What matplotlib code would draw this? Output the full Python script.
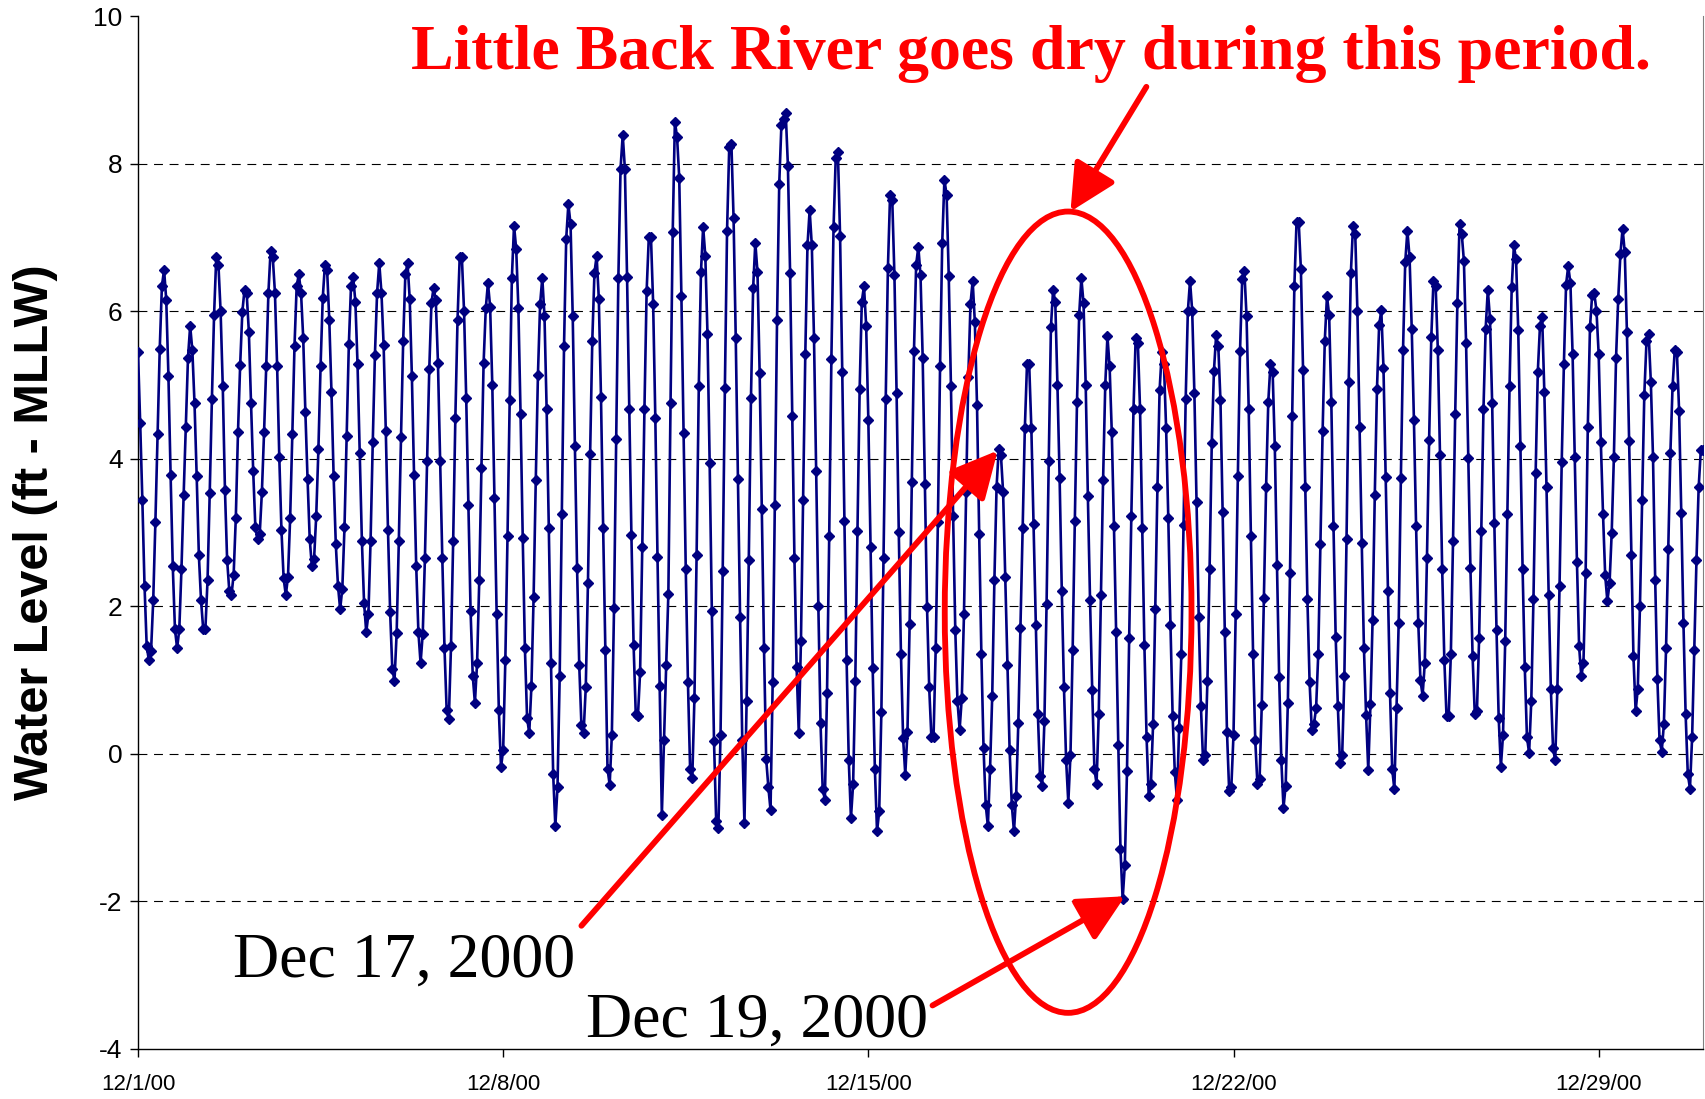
import numpy as np
import pandas as pd
import matplotlib
matplotlib.use("Agg")
import matplotlib.pyplot as plt
import matplotlib.dates as mdates
from matplotlib.patches import Ellipse
from matplotlib.ticker import FuncFormatter

plt.rcParams["axes.unicode_minus"] = False

# Hourly water level (ft - MLLW), starting 12/1/2000 00:00
seg_a = [5.45, 4.49, 3.44, 2.28, 1.46, 1.27, 1.39, 2.08, 3.14, 4.33,
         5.49, 6.34, 6.56, 6.15, 5.12, 3.78, 2.54, 1.69, 1.43, 1.69,
         2.51, 3.51, 4.43, 5.37, 5.80, 5.47, 4.75, 3.76, 2.69, 2.08,
         1.69, 1.69, 2.36, 3.54, 4.81, 5.95, 6.73, 6.63, 6.00, 4.98,
         3.58, 2.63, 2.21, 2.15, 2.43, 3.20, 4.36, 5.27, 5.99, 6.29,
         6.24, 5.72, 4.75, 3.83, 3.07, 2.91, 2.98, 3.55, 4.36, 5.26,
         6.25]
seg_b = [6.82, 6.73, 6.25, 5.26, 4.02, 3.03, 2.38, 2.15, 2.40, 3.20,
         4.33, 5.53, 6.34, 6.50, 6.25, 5.64, 4.63, 3.73, 2.91, 2.54,
         2.64, 3.23, 4.13, 5.26, 6.18, 6.63, 6.56, 5.88, 4.91, 3.76,
         2.84, 2.28, 1.96, 2.24, 3.07, 4.31, 5.55, 6.34, 6.46, 6.13,
         5.28, 4.08, 2.89, 2.05, 1.65, 1.89, 2.89, 4.22, 5.41, 6.25,
         6.65, 6.25, 5.54, 4.38, 3.04, 1.92, 1.15, 0.99, 1.64, 2.89]
seg_c = [4.29, 5.60, 6.50, 6.65, 6.17, 5.12, 3.78, 2.54, 1.65, 1.23,
         1.63, 2.65, 3.97, 5.21, 6.11, 6.32, 6.15, 5.30, 3.97, 2.65,
         1.44, 0.59, 0.47, 1.46, 2.89, 4.55, 5.88, 6.73, 6.73, 6.00,
         4.82, 3.37, 1.94, 1.06, 0.69, 1.23, 2.35, 3.87, 5.30, 6.04,
         6.38, 6.06, 5.00, 3.47, 1.90, 0.60, -0.18, 0.05, 1.27, 2.95,
         4.79, 6.45, 7.16, 6.84, 6.04, 4.60, 2.93, 1.43, 0.49, 0.28]
seg_d = [0.92, 2.12, 3.71, 5.14, 6.10, 6.45, 5.94, 4.67, 3.06, 1.23,
         -0.27, -0.98, -0.45, 1.05, 3.25, 5.53, 6.98, 7.45, 7.18, 5.93,
         4.17, 2.52, 1.20, 0.39, 0.28, 0.90, 2.31, 4.06, 5.60, 6.52,
         6.75, 6.17, 4.84, 3.06, 1.41, -0.20, -0.42, 0.26, 1.97, 4.27,
         6.45, 7.93, 8.39, 7.93, 6.46, 4.68, 2.96, 1.48, 0.54, 0.51,
         1.11, 2.81, 4.68, 6.27, 7.00, 7.00, 6.10, 4.55, 2.67, 0.92,
         -0.83]
seg_e = [0.19, 1.20, 2.17, 4.75, 7.07, 8.57, 8.36, 7.81, 6.20, 4.35,
         2.51, 0.98, -0.20, -0.33, 0.76, 2.70, 4.98, 6.53, 7.14, 6.75,
         5.69, 3.94, 1.94, 0.17, -0.91, -1.01, 0.26, 2.48, 4.96, 7.09,
         8.22, 8.27, 7.26, 5.64, 3.72, 1.85, 0.19, -0.94, 0.72, 2.63,
         4.82, 6.31, 6.93, 6.53, 5.16, 3.32, 1.43, -0.07, -0.45, -0.76,
         0.98, 3.37, 5.88, 7.72, 8.52, 8.60]
seg_f = [8.68, 7.97, 6.52, 4.58, 2.65, 1.18, 0.28, 1.53, 3.44, 5.42,
         6.89, 7.37, 6.89, 5.64, 3.83, 2.01, 0.42, -0.48, -0.62, 0.83,
         2.95, 5.35, 7.14, 8.08, 8.16, 7.02, 5.18, 3.16, 1.27, -0.09,
         -0.87, -0.41, 0.99, 3.02, 4.94, 6.13, 6.34, 5.80, 4.53, 2.81,
         1.16, -0.20, -1.05, -0.78, 0.57, 2.65, 4.81, 6.58, 7.57, 7.51,
         6.49, 4.89, 3.01, 1.36, 0.21, -0.28, 0.30, 1.76, 3.68, 5.46,
         6.63, 6.87, 6.49]
seg_g = [5.37, 3.66, 1.99, 0.90, 0.23, 0.23, 1.43, 3.14, 5.25, 6.93,
         7.78, 7.58, 6.47, 4.99, 3.23, 1.68, 0.72, 0.33, 0.76, 1.89,
         3.55, 5.11, 6.10, 6.41, 5.85, 4.73, 2.98, 1.36, 0.08, -0.69,
         -0.98, -0.20, 0.79, 2.36, 3.62, 4.13, 4.05, 3.55, 2.40, 1.20,
         0.05, -0.69, -1.05, -0.57, 0.42, 1.71, 3.06, 4.41, 5.28, 5.28,
         4.41, 3.11, 1.75, 0.54, -0.30, -0.43, 0.44, 2.03, 3.97, 5.78,
         6.29]
seg_h = [6.13, 5.00, 3.74, 2.21, 0.90, -0.09, -0.66, -0.01, 1.41, 3.16,
         4.77, 5.95, 6.45, 6.11, 5.00, 3.49, 2.08, 0.86, -0.20, -0.41,
         0.54, 2.15, 3.71, 5.00, 5.66, 5.25, 4.36, 3.09, 1.65, 0.12,
         -1.29, -1.97, -1.51, -0.23, 1.57, 3.23, 4.68, 5.64, 5.57, 4.68,
         3.06, 1.48, 0.23, -0.57, -0.41, 0.40, 1.96, 3.61, 4.93, 5.44,
         5.28, 4.41, 3.20, 1.75, 0.51]
seg_i = [-0.25, -0.62, 0.35, 1.36, 3.10, 4.81, 6.00]
seg_j = [6.41, 6.00, 4.89, 3.41, 1.85, 0.65, -0.09, -0.02, 0.99, 2.51,
         4.21, 5.19, 5.67, 5.53, 4.79, 3.28, 1.65, 0.30, -0.50, -0.45,
         0.26, 1.89, 3.76, 5.46, 6.43, 6.54, 5.93, 4.67, 2.95, 1.36,
         0.19, -0.41, -0.34, 0.66, 2.11, 3.62, 4.77, 5.28, 5.18, 4.17,
         2.56, 1.04, -0.09, -0.73, -0.43, 0.69, 2.45, 4.58, 6.34, 7.21,
         7.21, 6.57, 5.20, 3.61, 2.10, 0.98, 0.33, 0.40]
seg_k = [0.62, 1.36, 2.84, 4.38, 5.60, 6.20, 5.95, 4.77, 3.09, 1.59,
         0.65, -0.13, -0.02, 1.05, 2.91, 5.04, 6.52, 7.16, 7.05, 6.00,
         4.43, 2.86, 1.44, 0.52, -0.22, 0.67, 1.82, 3.51, 4.94, 5.81,
         6.01, 5.23, 3.75, 2.21, 0.83, -0.20, -0.48, 0.62, 1.78, 3.74,
         5.48, 6.66, 7.09, 6.73, 5.76, 4.53, 3.09, 1.78, 1.00, 0.79,
         1.23, 2.65, 4.26, 5.65, 6.41, 6.34, 5.48, 4.05, 2.51, 1.27]
seg_l = [0.51, 0.51, 1.36, 2.89, 4.61, 6.11, 7.18, 7.05, 6.68, 5.57,
         4.01, 2.52, 1.32, 0.54, 0.58, 1.57, 3.02, 4.67, 5.76, 6.29,
         5.90, 4.75, 3.13, 1.68, 0.49, -0.18, 0.26, 1.53, 3.25, 4.99,
         6.33, 6.89, 6.70, 5.74, 4.17, 2.51, 1.18, 0.23, 0.01, 0.72,
         2.10, 3.80, 5.18, 5.80, 5.92, 4.91, 3.62, 2.15, 0.88, 0.08,
         -0.09, 0.88, 2.28, 3.96, 5.28, 6.36, 6.61, 6.38, 5.42, 4.02,
         2.60, 1.46]
seg_m = [1.05, 1.23, 2.45, 4.43, 5.78, 6.22, 6.24, 6.00, 5.42, 4.22,
         3.25, 2.42, 2.07, 2.31, 3.00, 4.02, 5.37, 6.17, 6.77, 7.12,
         6.80, 5.72, 4.24, 2.70, 1.32, 0.58, 0.88, 2.01, 3.44, 4.87,
         5.59, 5.69, 5.04, 4.02, 2.36, 1.02, 0.19, 0.03, 0.40, 1.43,
         2.77, 4.08, 4.98, 5.47, 5.44, 4.65, 3.27, 1.78, 0.54, -0.27,
         -0.47, 0.23, 1.41, 2.63, 3.61, 4.12, 4.12]

segments = [seg_a, seg_b, seg_c, seg_d, seg_e, seg_f, seg_g,
            seg_h, seg_i, seg_j, seg_k, seg_l, seg_m]
level = np.concatenate([np.asarray(s, float) for s in segments])
times = pd.date_range("2000-12-01 00:00", periods=len(level), freq="h")

x_tick_dates = ["2000-12-01", "2000-12-08", "2000-12-15", "2000-12-22", "2000-12-29"]
y_ticks = [-4, -2, 0, 2, 4, 6, 8, 10]

title_text = "Little Back River goes dry during this period."
label_dec17 = "Dec 17, 2000"
label_dec19 = "Dec 19, 2000"

W, H = 1705, 1099
fig = plt.figure(figsize=(W / 100, H / 100), dpi=100)
ax = fig.add_axes([138 / W, 1 - 1049 / H, (1703 - 138) / W, (1049 - 16) / H])

ax.plot(times, level, color="#000080", lw=1.9, marker="D", ms=4.8,
        mec="#000080", mfc="#000080", zorder=3)

t0 = pd.Timestamp("2000-12-01")
def day(d):
    return mdates.date2num(t0 + pd.Timedelta(days=d))

ax.set_xlim(day(0), day(30))
ax.set_ylim(-4, 10)
ax.set_yticks(y_ticks)
ax.set_xticks([mdates.date2num(pd.Timestamp(d)) for d in x_tick_dates])
ax.xaxis.set_major_formatter(FuncFormatter(
    lambda v, p: "{}/{}/{:02d}".format(mdates.num2date(v).month,
                                        mdates.num2date(v).day,
                                        mdates.num2date(v).year % 100)))

ax.spines["top"].set_visible(False)
ax.spines["right"].set_color("#808080")
ax.spines["left"].set_linewidth(1.0)
ax.spines["bottom"].set_linewidth(1.0)

for yv in [-2, 0, 2, 4, 6, 8]:
    ax.axhline(yv, color="black", lw=0.8, ls=(0, (8, 6)), zorder=1)

font = ["Liberation Sans", "DejaVu Sans"]
ax.tick_params(axis="y", direction="out", length=6, width=1, labelsize=19, pad=5)
ax.tick_params(axis="x", direction="out", length=6, width=1, labelsize=16, pad=12)
for lab in ax.get_xticklabels() + ax.get_yticklabels():
    lab.set_fontfamily(font)

ax.set_ylabel("Water Level (ft - MLLW)", fontsize=35, fontweight="bold",
              family=font)
ax.yaxis.set_label_coords(-0.051, 0.5)

red = "#FF0000"
ell = Ellipse((day(17.83), 1.92), width=4.73, height=10.86, fill=False,
              edgecolor=red, lw=4.2, zorder=5)
ax.add_patch(ell)

arrow_kw = dict(arrowstyle="-|>,head_length=1.1,head_width=0.55", color=red,
                lw=4.2, mutation_scale=26, shrinkA=0, shrinkB=0)
ax.annotate("", xy=(day(17.875), 7.35), xytext=(day(19.33), 9.04),
            arrowprops=arrow_kw, zorder=6)
ax.annotate("", xy=(day(16.48), 4.11), xytext=(day(8.5), -2.33),
            arrowprops=arrow_kw, zorder=6)
ax.annotate("", xy=(day(18.92), -1.93), xytext=(day(15.23), -3.41),
            arrowprops=arrow_kw, zorder=6)

serif = ["Liberation Serif", "DejaVu Serif"]
ax.text(day(17.125), 9.48, title_text, color=red, fontsize=46,
        fontweight="bold", family=serif, ha="center", va="center", zorder=7)
ax.text(day(5.1), -2.82, label_dec17, color="black", fontsize=46,
        family=serif, ha="center", va="center", zorder=7)
ax.text(day(11.875), -3.63, label_dec19, color="black", fontsize=46,
        family=serif, ha="center", va="center", zorder=7)

fig.savefig("out.png", dpi=100)
